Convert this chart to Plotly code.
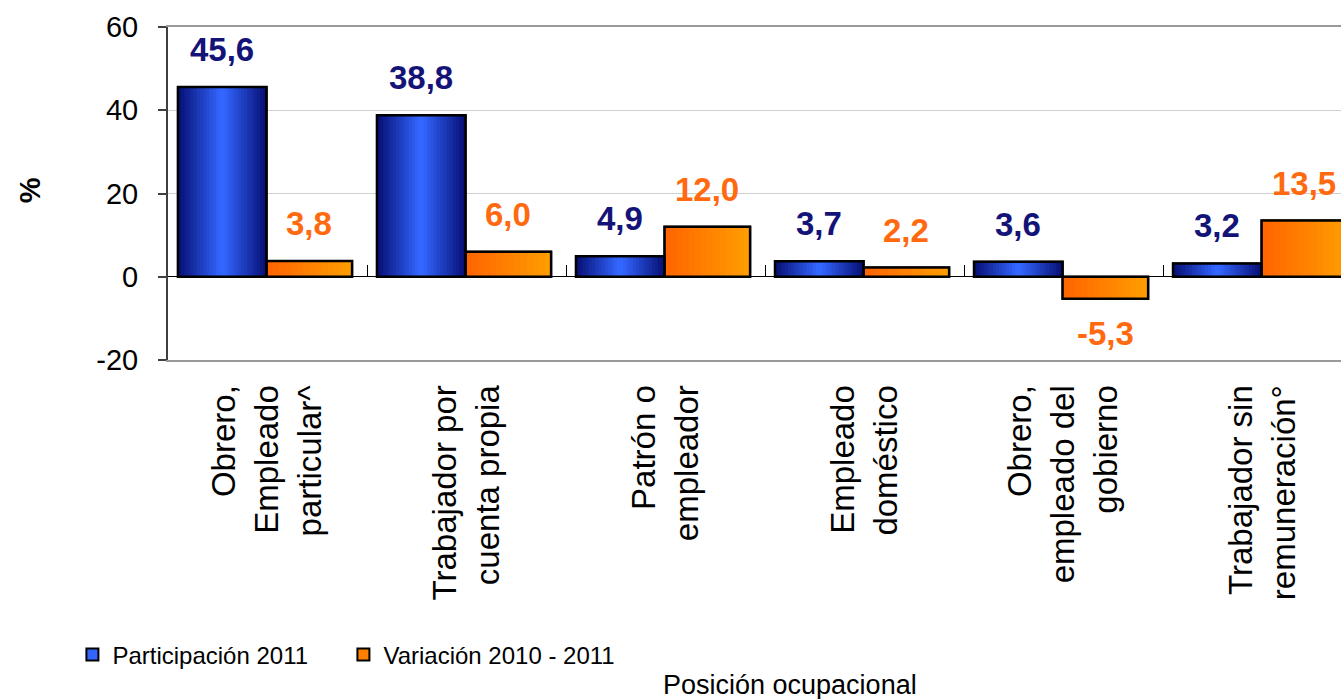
import plotly.graph_objects as go

# --- data ---
categories = [
    "Obrero,<br>Empleado<br>particular^",
    "Trabajador por<br>cuenta propia",
    "Patrón o<br>empleador",
    "Empleado<br>doméstico",
    "Obrero,<br>empleado del<br>gobierno",
    "Trabajador sin<br>remuneración°",
]
participacion = [45.6, 38.8, 4.9, 3.7, 3.6, 3.2]
variacion = [3.8, 6.0, 12.0, 2.2, -5.3, 13.5]
series_names = ["Participación 2011", "Variación 2010 - 2011"]
y_ticks = [-20, 0, 20, 40, 60]
y_ticktext = ["-20", "0", "20", "40", "60"]

pos = list(range(len(categories)))
FONT = "Liberation Sans, Arial, sans-serif"

# bar geometry (in category units)
BO, BW = -0.45, 0.445   # blue bar offset / width
OO, OW = -0.005, 0.43   # orange bar offset / width
N = 14                  # gradient steps


def mix(c1, c2, t):
    return "#%02x%02x%02x" % tuple(round(a + (b - a) * t) for a, b in zip(c1, c2))


def fmt(v):
    return f"{v:.1f}".replace(".", ",")


navy, bright = (8, 18, 120), (51, 102, 255)
org_l, org_r = (255, 102, 0), (255, 156, 0)

fig = go.Figure()

# legend carriers (hidden under the gradient layers)
fig.add_trace(go.Bar(x=pos, y=participacion, offset=BO, width=BW, name=series_names[0],
                     marker=dict(color="#3366FF", line=dict(color="black", width=2)),
                     legendgroup="a"))
fig.add_trace(go.Bar(x=pos, y=variacion, offset=OO, width=OW, name=series_names[1],
                     marker=dict(color="#FF8000", line=dict(color="black", width=2)),
                     legendgroup="b"))

# gradient layers
for k in range(N):
    w = BW * (1 - k / N)
    fig.add_trace(go.Bar(x=pos, y=participacion, offset=BO + (BW - w) / 2, width=w,
                         marker=dict(color=mix(navy, bright, k / (N - 1)), line=dict(width=0)),
                         showlegend=False, hoverinfo="skip"))
for k in range(N):
    w = OW * (1 - k / N)
    fig.add_trace(go.Bar(x=pos, y=variacion, offset=OO + OW - w, width=w,
                         marker=dict(color=mix(org_l, org_r, k / (N - 1)), line=dict(width=0)),
                         showlegend=False, hoverinfo="skip"))

# outlines
for vals, off, wid in [(participacion, BO, BW), (variacion, OO, OW)]:
    fig.add_trace(go.Bar(x=pos, y=vals, offset=off, width=wid,
                         marker=dict(color="rgba(0,0,0,0)", line=dict(color="black", width=2.5)),
                         showlegend=False, hoverinfo="skip"))

# tick marks on the zero line between categories
fig.add_trace(go.Scatter(x=[], y=[], xaxis="x2", showlegend=False))

# value labels
annotations = []
for i, v in enumerate(participacion):
    annotations.append(dict(x=i + BO + BW / 2, y=v, xref="x", yref="y", text=fmt(v),
                            showarrow=False, yanchor="bottom", yshift=17,
                            font=dict(family=FONT, size=33, color="#141478", weight="bold")))
for i, v in enumerate(variacion):
    annotations.append(dict(x=i + OO + OW / 2, y=v, xref="x", yref="y", text=fmt(v),
                            showarrow=False, yanchor="bottom" if v >= 0 else "top",
                            yshift=17 if v >= 0 else -14,
                            font=dict(family=FONT, size=33, color="#FF6A10", weight="bold")))

annotations.append(dict(x=-0.1176, y=0.51, xref="paper", yref="paper", text="%",
                        showarrow=False, textangle=-90, xanchor="center", yanchor="middle",
                        font=dict(family=FONT, size=29, color="black", weight="bold")))
annotations.append(dict(x=0.5303, y=-0.976, xref="paper", yref="paper",
                        text="Posición ocupacional", showarrow=False,
                        xanchor="center", yanchor="middle",
                        font=dict(family=FONT, size=27, color="black")))

xr = [-0.5, 5.394]
fig.update_layout(
    width=1341, height=699,
    margin=dict(l=168, r=0, t=27, b=339),
    paper_bgcolor="white", plot_bgcolor="white",
    barmode="overlay",
    font=dict(family=FONT, color="black"),
    annotations=annotations,
    xaxis=dict(range=xr, tickmode="array", tickvals=pos, ticktext=categories,
               tickangle=-90, ticks="", showgrid=False, zeroline=False,
               showline=True, mirror=True, linecolor="#999999", linewidth=2,
               tickfont=dict(family=FONT, size=33, color="black"),
               ticklabelstandoff=10),
    xaxis2=dict(range=xr, overlaying="x", anchor="free", position=0.25, side="bottom",
                tickmode="array", tickvals=[p - 0.5 for p in pos],
                ticks="inside", ticklen=12, tickwidth=1, tickcolor="black",
                showticklabels=False, showline=False, showgrid=False, zeroline=False),
    yaxis=dict(range=[-20, 60], tickmode="array", tickvals=y_ticks, ticktext=y_ticktext,
               ticks="outside", ticklen=8, tickcolor="#404040", tickwidth=1.5,
               showline=True, linecolor="#404040", linewidth=2,
               showgrid=True, gridcolor="#D0D0D0", gridwidth=1,
               zeroline=True, zerolinecolor="black", zerolinewidth=1,
               tickfont=dict(family=FONT, size=29, color="black"),
               ticklabelstandoff=14),
    legend=dict(orientation="h", xref="container", yref="container",
                x=0.054, y=0.063, xanchor="left", yanchor="middle",
                font=dict(family=FONT, size=24, color="black"),
                traceorder="normal", entrywidth=226, itemwidth=30),
)

fig.write_html("out.html", config={"displayModeBar": False},
               post_script="document.body.style.margin='0';")
